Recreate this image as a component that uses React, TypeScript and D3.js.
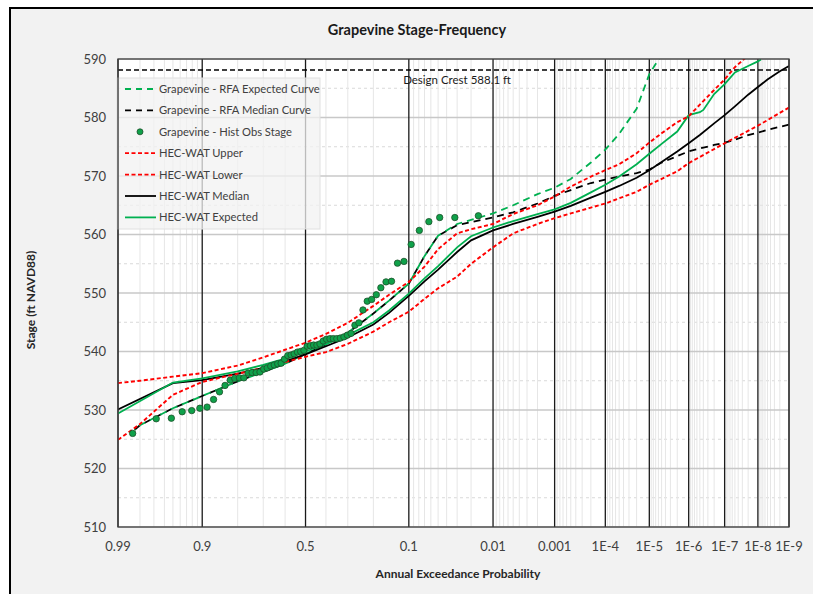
import React from "react";
import * as d3 from "d3";

// exceedance probabilities and stages (ft NAVD88)
const obsProb = [
  0.984, 0.968, 0.952, 0.937, 0.921, 0.905, 0.889, 0.873, 0.857, 0.841, 0.825,
  0.81, 0.794, 0.778, 0.762, 0.746, 0.73, 0.714, 0.698, 0.683, 0.667, 0.651,
  0.635, 0.619, 0.603, 0.587, 0.571, 0.556, 0.54, 0.524, 0.508, 0.492, 0.476,
  0.46, 0.444, 0.429, 0.413, 0.397, 0.381, 0.365, 0.349, 0.333, 0.317, 0.302,
  0.286, 0.27, 0.254, 0.238, 0.222, 0.206, 0.19, 0.175, 0.159, 0.143, 0.127,
  0.111, 0.095, 0.079, 0.063, 0.048, 0.032, 0.016,
];
const obsStage = [
  526.0, 528.5, 528.6, 529.7, 529.9, 530.3, 530.5, 531.8, 533.1, 534.2, 535.1,
  535.4, 535.5, 535.5, 536.3, 536.4, 536.4, 536.5, 537.0, 537.2, 537.5, 537.7,
  537.9, 538.0, 538.7, 539.3, 539.4, 539.6, 539.9, 540.0, 540.2, 540.9, 541.0,
  541.1, 541.1, 541.3, 541.8, 542.1, 542.2, 542.2, 542.2, 542.3, 542.5, 542.8,
  543.1, 544.5, 544.9, 547.1, 548.6, 548.9, 549.7, 550.9, 551.9, 552.0, 555.1,
  555.4, 558.3, 560.7, 562.2, 562.9, 562.9, 563.2,
];

const upperProb = [
  0.99, 0.98, 0.95, 0.9, 0.8, 0.7, 0.6, 0.5, 0.4, 0.3, 0.2, 0.15, 0.1, 0.07,
  0.05, 0.03, 0.02, 0.01, 0.005, 0.002, 0.001, 5e-4, 2e-4, 1e-4, 5e-5, 2e-5,
  1e-5, 5e-6, 2e-6, 1e-6, 5e-7, 2e-7, 1e-7, 5e-8, 2e-8,
];
const upperStage = [
  534.6, 535.0, 535.7, 536.3, 537.6, 539.0, 540.3, 541.5, 543.0, 544.9, 547.8,
  549.7, 551.9, 554.5, 557.5, 560.2, 560.9, 561.8, 563.5, 565.0, 566.5, 568.2,
  569.9, 571.0, 572.0, 573.9, 575.7, 577.3, 579.2, 580.2, 582.2, 584.7, 586.5,
  588.6, 590.6,
];

const lowerProb = [
  0.99, 0.98, 0.95, 0.9, 0.8, 0.7, 0.6, 0.5, 0.4, 0.3, 0.2, 0.15, 0.1, 0.07,
  0.05, 0.03, 0.02, 0.01, 0.005, 0.002, 0.001, 5e-4, 2e-4, 1e-4, 2e-5, 1e-5,
  2e-6, 1e-6, 1e-7, 1e-8, 1e-9,
];
const lowerStage = [
  524.9, 527.6, 532.6, 534.8, 536.2, 537.2, 538.2, 539.1, 539.9, 541.3, 543.4,
  545.0, 546.8, 549.0, 550.8, 552.8, 555.0, 557.8, 560.2, 561.8, 562.8, 563.6,
  564.6, 565.3, 567.3, 568.5, 570.8, 572.2, 575.6, 578.6, 581.7,
];

const medianProb = [
  0.99, 0.95, 0.9, 0.8, 0.7, 0.6, 0.5, 0.4, 0.3, 0.2, 0.15, 0.1, 0.07, 0.05,
  0.03, 0.02, 0.01, 0.005, 0.002, 0.001, 5e-4, 2e-4, 1e-4, 5e-5, 2e-5, 1e-5,
  5e-6, 2e-6, 1e-6, 5e-7, 2e-7, 1e-7, 5e-8, 2e-8, 1e-8, 5e-9, 2e-9, 1e-9,
];
const medianStage = [
  530.1, 534.6, 535.1, 536.2, 537.2, 538.3, 539.5, 540.9, 542.4, 544.6, 546.6,
  549.5, 552.0, 554.0, 557.0, 559.0, 560.7, 561.8, 563.0, 563.9, 564.9, 566.3,
  567.3, 568.3, 569.7, 571.0, 572.4, 574.2, 575.6, 577.0, 579.0, 580.4, 581.9,
  583.9, 585.2, 586.5, 587.9, 588.8,
];

const expectedProb = [
  0.99, 0.95, 0.9, 0.8, 0.7, 0.6, 0.5, 0.4, 0.3, 0.2, 0.15, 0.1, 0.07, 0.05,
  0.03, 0.02, 0.01, 0.005, 0.002, 0.001, 5e-4, 2e-4, 1e-4, 5e-5, 2e-5, 1e-5,
  5e-6, 2e-6, 1e-6, 5e-7, 4e-7, 2e-7, 1e-7, 5e-8, 2e-8, 1e-8, 8e-9,
];
const expectedStage = [
  529.4, 534.7, 535.4, 536.6, 537.7, 538.8, 540.0, 541.3, 542.8, 545.0, 547.0,
  549.9, 552.5, 554.6, 557.8, 559.7, 561.2, 562.3, 563.5, 564.3, 565.4, 567.2,
  568.5, 569.9, 572.0, 573.8, 575.5, 577.6, 580.4, 580.9, 581.3, 584.0, 585.7,
  587.7, 588.8, 589.6, 589.9,
];

const rfaMedProb = [
  0.983, 0.98, 0.95, 0.9, 0.8, 0.7, 0.6, 0.5, 0.4, 0.3, 0.2, 0.15, 0.1, 0.07,
  0.05, 0.03, 0.02, 0.01, 0.005, 0.002, 0.001, 5e-4, 2e-4, 1e-4, 5e-5, 2e-5,
  1e-5, 5e-6, 2e-6, 1e-6, 5e-7, 2e-7, 1e-7, 5e-8, 2e-8, 1e-8, 5e-9, 2e-9, 1e-9,
];
const rfaMedStage = [
  526.6, 527.4, 530.3, 532.4, 534.9, 536.5, 537.9, 539.6, 541.2, 543.2, 546.5,
  548.7, 551.6, 556.3, 559.8, 561.6, 562.1, 562.9, 563.8, 565.3, 566.6, 567.6,
  568.8, 569.4, 569.9, 570.5, 571.1, 572.3, 573.4, 574.2, 574.7, 575.3, 575.7,
  576.2, 577.0, 577.4, 577.9, 578.4, 578.8,
];

const rfaExpProb = [
  0.983, 0.98, 0.95, 0.9, 0.8, 0.7, 0.6, 0.5, 0.4, 0.3, 0.2, 0.15, 0.1, 0.07,
  0.05, 0.03, 0.02, 0.01, 0.005, 0.002, 0.001, 5e-4, 2e-4, 1e-4, 5e-5, 2e-5,
  1e-5, 5e-6,
];
const rfaExpStage = [
  526.6, 527.4, 530.3, 532.4, 534.9, 536.5, 537.9, 539.6, 541.2, 543.2, 546.5,
  548.7, 551.6, 556.3, 559.8, 561.8, 562.5, 563.6, 565.0, 566.9, 568.0, 569.5,
  572.3, 574.5, 577.2, 581.5, 587.4, 590.8,
];

const designCrest = 588.1;

const xTickProbs = [0.99, 0.9, 0.5, 0.1, 0.01, 0.001, 1e-4, 1e-5, 1e-6, 1e-7, 1e-8, 1e-9];
const xTickLabels = ["0.99", "0.9", "0.5", "0.1", "0.01", "0.001", "1E-4", "1E-5", "1E-6", "1E-7", "1E-8", "1E-9"];
const yTicks = [510, 520, 530, 540, 550, 560, 570, 580, 590];

const GREEN = "#00b050";
const RED = "#ff0000";
const FONT = "Lato, 'Open Sans', sans-serif";

// inverse standard normal CDF (Acklam)
function invNorm(p: number): number {
  const a = [-3.969683028665376e1, 2.209460984245205e2, -2.759285104469687e2, 1.38357751867269e2, -3.066479806614716e1, 2.506628277459239];
  const b = [-5.447609879822406e1, 1.615858368580409e2, -1.556989798598866e2, 6.680131188771972e1, -1.328068155288572e1];
  const c = [-7.784894002430293e-3, -3.223964580411365e-1, -2.400758277161838, -2.549732539343734, 4.374664141464968, 2.938163982698783];
  const d = [7.784695709041462e-3, 3.224671290700398e-1, 2.445134137142996, 3.754408661907416];
  const pl = 0.02425;
  if (p < pl) {
    const q = Math.sqrt(-2 * Math.log(p));
    return (((((c[0] * q + c[1]) * q + c[2]) * q + c[3]) * q + c[4]) * q + c[5]) /
      ((((d[0] * q + d[1]) * q + d[2]) * q + d[3]) * q + 1);
  }
  if (p > 1 - pl) return -invNorm(1 - p);
  const q = p - 0.5;
  const r = q * q;
  return (((((a[0] * r + a[1]) * r + a[2]) * r + a[3]) * r + a[4]) * r + a[5]) * q /
    (((((b[0] * r + b[1]) * r + b[2]) * r + b[3]) * r + b[4]) * r + 1);
}
// exceedance prob -> standard normal variate
const zOf = (p: number) => -invNorm(p);

const W = 813, H = 594;
const L = 118, R = 789, T = 59, B = 527;

export default function App() {
  const xs = d3.scaleLinear().domain([zOf(0.99), zOf(1e-9)]).range([L, R]);
  const xp = (p: number) => xs(zOf(p));
  const y = d3.scaleLinear().domain([510, 590]).range([B, T]);

  const line = d3
    .line<[number, number]>()
    .x((d) => xp(d[0]))
    .y((d) => y(d[1]));
  const path = (ps: number[], ss: number[]) =>
    line(ps.map((p, i) => [p, ss[i]] as [number, number])) || "";

  // minor probability grid lines
  const minor: number[] = [];
  [0.98, 0.97, 0.96, 0.95, 0.94, 0.93, 0.92, 0.91, 0.8, 0.7, 0.6, 0.4, 0.3, 0.2].forEach((p) => minor.push(p));
  for (let e = 2; e <= 9; e++) {
    for (let m = 9; m >= 2; m--) minor.push(m * Math.pow(10, -e));
  }
  const minorY = d3.range(515, 590, 10);

  const legend = [
    { label: "Grapevine - RFA Expected Curve", kind: "line", color: GREEN, dash: "6,5" },
    { label: "Grapevine - RFA Median Curve", kind: "line", color: "#000", dash: "6,5" },
    { label: "Grapevine - Hist Obs Stage", kind: "dot", color: GREEN, dash: "" },
    { label: "HEC-WAT Upper", kind: "line", color: RED, dash: "4,2.5" },
    { label: "HEC-WAT Lower", kind: "line", color: RED, dash: "4,2.5" },
    { label: "HEC-WAT Median", kind: "line", color: "#000", dash: "" },
    { label: "HEC-WAT Expected", kind: "line", color: GREEN, dash: "" },
  ];

  return (
    <svg width={W} height={H} style={{ position: "absolute", left: 0, top: 0 }} fontFamily={FONT}>
      <rect x={0} y={0} width={W} height={H} fill="#ffffff" />
      <rect x={10} y={8} width={W + 20} height={H + 20} fill="#f2f2f2" stroke="#000" strokeWidth={2} />
      <defs>
        <clipPath id="plot">
          <rect x={L} y={T} width={R - L} height={B - T} />
        </clipPath>
      </defs>
      <text x={417} y={35} textAnchor="middle" fontSize={14.5} fontWeight="bold" fill="#1a1a1a">
        Grapevine Stage-Frequency
      </text>

      <rect x={L} y={T} width={R - L} height={B - T} fill="#fff" />

      {/* grid */}
      {minorY.map((v) => (
        <line key={"my" + v} x1={L} x2={R} y1={y(v)} y2={y(v)} stroke="#d9d9d9" strokeDasharray="3,3" strokeWidth={1} />
      ))}
      {minor.map((p, i) => (
        <line key={"mx" + i} x1={xp(p)} x2={xp(p)} y1={T} y2={B} stroke="#e6e6e6" strokeWidth={1} />
      ))}
      {yTicks.map((v) => (
        <line key={"gy" + v} x1={L} x2={R} y1={y(v)} y2={y(v)} stroke="#c8c8c8" strokeWidth={1.5} />
      ))}
      {xTickProbs.map((p) => (
        <line key={"gx" + p} x1={xp(p)} x2={xp(p)} y1={T} y2={B} stroke="#1a1a1a" strokeWidth={1.3} />
      ))}

      {/* legend box (under the curves) */}
      <rect x={117} y={78} width={203} height={151} fill="#f2f2f2" fillOpacity={0.75} stroke="#e0e0e0" />

      <g clipPath="url(#plot)" fill="none" strokeWidth={1.8}>
        <line x1={L} x2={R} y1={y(designCrest)} y2={y(designCrest)} stroke="#000" strokeDasharray="5,3" strokeWidth={1.5} />
        <path d={path(rfaMedProb, rfaMedStage)} stroke="#000" strokeDasharray="7,5" />
        <path d={path(rfaExpProb, rfaExpStage)} stroke={GREEN} strokeDasharray="7,5" strokeDashoffset={6} />
        <path d={path(medianProb, medianStage)} stroke="#000" />
        <path d={path(expectedProb, expectedStage)} stroke={GREEN} />
        <path d={path(upperProb, upperStage)} stroke={RED} strokeDasharray="4,2.5" strokeWidth={1.9} />
        <path d={path(lowerProb, lowerStage)} stroke={RED} strokeDasharray="4,2.5" strokeWidth={1.9} />
        {obsProb.map((p, i) => (
          <circle key={"o" + i} cx={xp(p)} cy={y(obsStage[i])} r={3.2} fill="#0fa14a" stroke="#1d4f2a" strokeWidth={0.8} />
        ))}
      </g>

      <text x={457} y={84} textAnchor="middle" fontSize={11.5} fill="#1a1a1a">
        Design Crest 588.1 ft
      </text>

      {legend.map((e, i) => {
        const cy = 89 + i * 21.4;
        return (
          <g key={e.label}>
            {e.kind === "line" ? (
              <line x1={125} x2={156} y1={cy} y2={cy} stroke={e.color} strokeWidth={1.8} strokeDasharray={e.dash || undefined} />
            ) : (
              <circle cx={140} cy={cy} r={3} fill="#0fa14a" stroke="#1d4f2a" strokeWidth={0.8} />
            )}
            <text x={159} y={cy + 4} fontSize={11.2} fill="#404040">
              {e.label}
            </text>
          </g>
        );
      })}

      <rect x={L} y={T} width={R - L} height={B - T} fill="none" stroke="#404040" strokeWidth={1.3} />

      {/* axes labels */}
      {yTicks.map((v) => (
        <text key={"yt" + v} x={106} y={y(v) + 4.5} textAnchor="end" fontSize={13} fill="#404040">
          {v}
        </text>
      ))}
      {xTickProbs.map((p, i) => (
        <text key={"xt" + p} x={xp(p)} y={551} textAnchor="middle" fontSize={13} fill="#404040">
          {xTickLabels[i]}
        </text>
      ))}
      <text x={458} y={578} textAnchor="middle" fontSize={12} fontWeight="bold" fill="#262626">
        Annual Exceedance Probability
      </text>
      <text transform="translate(35,300) rotate(-90)" textAnchor="middle" fontSize={12} fontWeight="bold" fill="#262626">
        Stage (ft NAVD88)
      </text>
    </svg>
  );
}
